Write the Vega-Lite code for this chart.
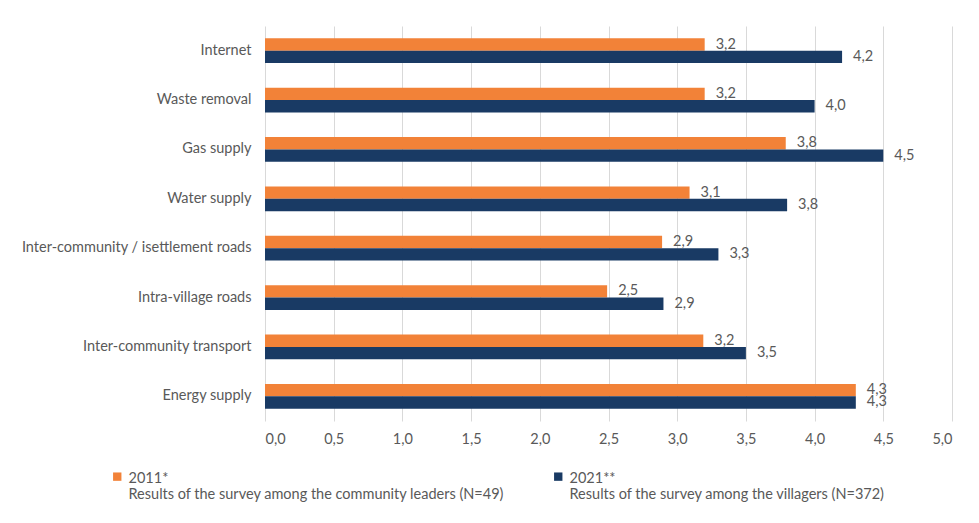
{
  "$schema": "https://vega.github.io/schema/vega-lite/v6.json",
  "width": 687,
  "height": 395,
  "autosize": {"type": "none"},
  "padding": {"left": 265, "top": 26, "right": 27, "bottom": 102},
  "background": "white",
  "config": {
    "locale": {"number": {"decimal": ",", "thousands": " ", "grouping": [3], "currency": ["", ""]}},
    "font": "Lato",
    "view": {"stroke": null}
  },
  "data": {
    "values": [
      {"cat": "Internet", "series": "2011*", "value": 3.2},
      {"cat": "Internet", "series": "2021**", "value": 4.2},
      {"cat": "Waste removal", "series": "2011*", "value": 3.2},
      {"cat": "Waste removal", "series": "2021**", "value": 4.0},
      {"cat": "Gas supply", "series": "2011*", "value": 3.79},
      {"cat": "Gas supply", "series": "2021**", "value": 4.5},
      {"cat": "Water supply", "series": "2011*", "value": 3.09},
      {"cat": "Water supply", "series": "2021**", "value": 3.8},
      {"cat": "Inter-community / isettlement roads", "series": "2011*", "value": 2.89},
      {"cat": "Inter-community / isettlement roads", "series": "2021**", "value": 3.3},
      {"cat": "Intra-village roads", "series": "2011*", "value": 2.49},
      {"cat": "Intra-village roads", "series": "2021**", "value": 2.9},
      {"cat": "Inter-community transport", "series": "2011*", "value": 3.19},
      {"cat": "Inter-community transport", "series": "2021**", "value": 3.5},
      {"cat": "Energy supply", "series": "2011*", "value": 4.3},
      {"cat": "Energy supply", "series": "2021**", "value": 4.3}
    ]
  },
  "encoding": {
    "y": {
      "field": "cat", "type": "nominal", "sort": null,
      "scale": {"paddingInner": 0.5, "paddingOuter": 0.25},
      "axis": {"title": null, "ticks": false, "domain": false, "labelFontSize": 14.5, "labelColor": "#595959", "labelPadding": 14, "labelLimit": 300}
    },
    "yOffset": {"field": "series", "type": "nominal", "scale": {"padding": 0}},
    "x": {
      "field": "value", "type": "quantitative",
      "scale": {"domain": [0, 5], "nice": false},
      "axis": {"title": null, "values": [0, 0.5, 1, 1.5, 2, 2.5, 3, 3.5, 4, 4.5, 5], "format": ".1f", "grid": true, "gridColor": "#D9D9D9", "domain": false, "ticks": false, "labelFontSize": 14.5, "labelColor": "#595959", "labelPadding": 11}
    }
  },
  "layer": [
    {
      "mark": {"type": "bar"},
      "encoding": {
        "color": {
          "field": "series", "type": "nominal",
          "scale": {"domain": ["2011*", "2021**"], "range": ["#F28238", "#193A64"]},
          "legend": {
            "title": null, "orient": "none", "legendX": -155, "legendY": 438,
            "direction": "horizontal", "columns": 2, "columnPadding": 46,
            "symbolType": "M-1,0.2L1,0.2L1,2.2L-1,2.2Z", "symbolSize": 70, "labelFontSize": 14.5, "labelColor": "#595959",
            "labelLimit": 450, "labelBaseline": "top", "labelOffset": 4,
            "labelExpr": "datum.label == '2011*' ? ['2011*', 'Results of the survey among the community leaders (N=49)'] : ['2021**', 'Results of the survey among the villagers (N=372)']"
          }
        }
      }
    },
    {
      "mark": {"type": "text", "align": "left", "dx": 11, "fontSize": 14.5, "color": "#595959"},
      "encoding": {"text": {"field": "value", "type": "quantitative", "format": ".1f"}}
    }
  ]
}
